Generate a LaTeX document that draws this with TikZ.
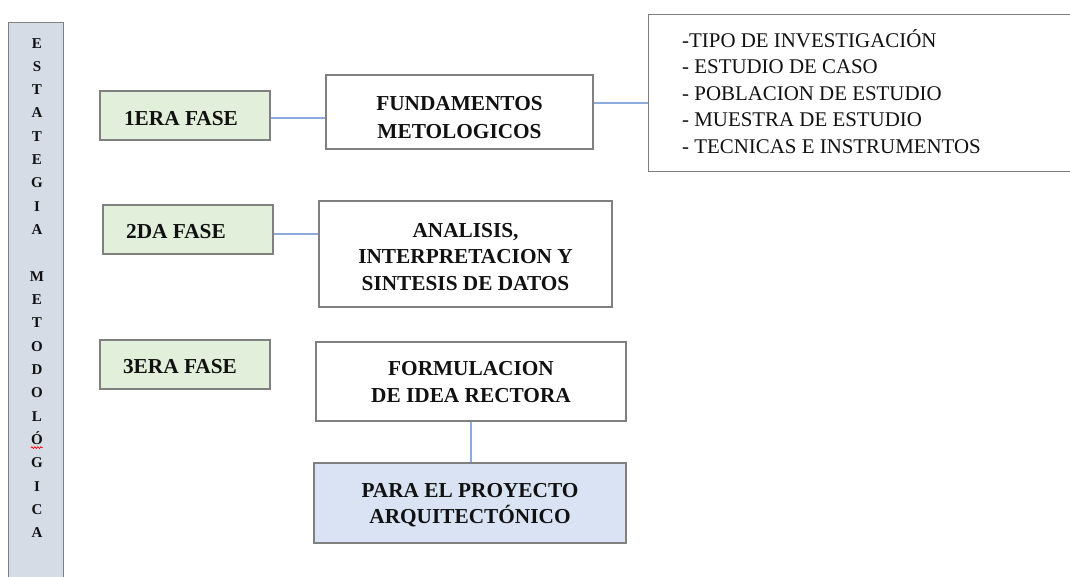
\documentclass[tikz,border=0pt]{standalone}
\usepackage{fontspec}
\setmainfont{Liberation Serif}
\usetikzlibrary{decorations.pathmorphing}
\definecolor{bord}{RGB}{128,128,128}
\definecolor{conn}{RGB}{143,170,220}
\definecolor{greenf}{RGB}{226,239,218}
\definecolor{bluef}{RGB}{218,227,243}
\definecolor{colf}{RGB}{214,220,229}
\definecolor{ink}{RGB}{17,17,17}
\begin{document}
\begin{tikzpicture}[x=1pt,y=-1pt,
  box/.style={draw=bord, line width=1.4pt, inner sep=0pt},
  fase/.style={box, fill=greenf, minimum width=170pt, minimum height=49pt},
  btxt/.style={inner sep=0pt, anchor=base, text=ink, font=\bfseries\fontsize{21.3}{26}\selectfont},
  letter/.style={inner sep=0pt, anchor=base, text=ink, font=\bfseries\fontsize{15}{16}\selectfont},
  listtxt/.style={inner sep=0pt, anchor=base west, text=ink, font=\fontsize{20.9}{24}\selectfont},
  link/.style={draw=conn, line width=1.4pt}]
\useasboundingbox (0,0) rectangle (1070,576);

% left column
\node[box, fill=colf, minimum width=55pt, minimum height=570pt, anchor=north west] (col) at (8,22) {};
\foreach \l [count=\i] in {E,S,T,A,T,E,G,I,A,,M,E,T,O,D,O,L,Ó,G,I,C,A}
  \node[letter] (let\i) at (37,{48+23.33*(\i-1)}) {\l};
\draw[red, line width=0.7pt, decorate, decoration={snake, amplitude=0.9pt, segment length=3pt}]
  ([yshift=-3pt]let18.base west) -- ([yshift=-3pt]let18.base east);

% phases
\node[fase] (f1) at (185,115.5) {};
\node[fase] (f2) at (188,229.5) {};
\node[fase] (f3) at (185,364.5) {};
\node[btxt] (f1t) at (181,125) {1ERA FASE};
\node[btxt] (f2t) at (176,238) {2DA FASE};
\node[btxt] (f3t) at (180,373) {3ERA FASE};

% content boxes
\node[box, minimum width=267pt, minimum height=74pt] (fund) at (459.5,112) {};
\node[btxt] (fund1) at (459.5,110) {FUNDAMENTOS};
\node[btxt] (fund2) at (459.5,138) {METOLOGICOS};

\node[box, minimum width=293pt, minimum height=106pt] (anal) at (465.5,254) {};
\node[btxt] (anal1) at (465.5,237) {ANALISIS,};
\node[btxt] (anal2) at (465.5,263.5) {INTERPRETACION Y};
\node[btxt] (anal3) at (465.5,290) {SINTESIS DE DATOS};

\node[box, minimum width=310pt, minimum height=79pt] (form) at (471,381.5) {};
\node[btxt] (form1) at (471,375.5) {FORMULACION};
\node[btxt] (form2) at (471,402.5) {DE IDEA RECTORA};

\node[box, fill=bluef, minimum width=312pt, minimum height=80pt] (para) at (470,503) {};
\node[btxt] (para1) at (470,497) {PARA EL PROYECTO};
\node[btxt] (para2) at (470,523.5) {ARQUITECTÓNICO};

% list box
\node[box, minimum width=428pt, minimum height=157pt, anchor=north west] (list) at (648,14) {};
\foreach \t [count=\i] in {-TIPO DE INVESTIGACIÓN,- ESTUDIO DE CASO,- POBLACION DE ESTUDIO,- MUESTRA DE ESTUDIO,- TECNICAS E INSTRUMENTOS}
  \node[listtxt] (li\i) at (682,{47+26.5*(\i-1)}) {\t};

% connectors
\draw[link] ([yshift=-2.5pt]f1.east) -- ([yshift=-2.5pt]f1.east -| fund.west);
\draw[link] ([yshift=9pt]fund.east) -- ([yshift=9pt]fund.east -| list.west);
\draw[link] ([yshift=-4.5pt]f2.east) -- ([yshift=-4.5pt]f2.east -| anal.west);
\draw[link] (form.south) -- (form.south |- para.north);
\end{tikzpicture}
\end{document}
